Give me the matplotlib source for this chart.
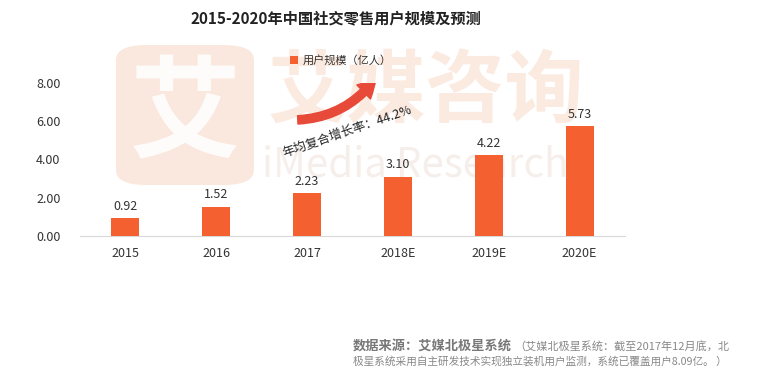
import matplotlib.pyplot as plt
from matplotlib.patches import FancyBboxPatch, FancyArrowPatch

plt.rcParams['font.family'] = ['Noto Sans CJK SC', 'DejaVu Sans']

years = ['2015', '2016', '2017', '2018E', '2019E', '2020E']
users = [0.92, 1.52, 2.23, 3.10, 4.22, 5.73]
yticks = [0, 2, 4, 6, 8]
cagr_label = '年均复合增长率：44.2%'

bar_color = '#F4602F'

fig = plt.figure(figsize=(7.58, 3.76), dpi=100)
ax = fig.add_axes([80 / 758, 1 - 236 / 376, 545 / 758, 153 / 376])
ax.set_zorder(2)

# watermark (behind the axes)
wm = '#F8D9C8'
fig.patches.append(FancyBboxPatch((116 / 758, 1 - 185 / 376), 138 / 758, 140 / 376,
                                  boxstyle='round,pad=0,rounding_size=0.04',
                                  transform=fig.transFigure, fc=wm, ec='none',
                                  alpha=0.6, zorder=0))
fig.text(185 / 758, 1 - 117 / 376, '艾', fontsize=80, color='white', weight='bold',
         ha='center', va='center', alpha=0.9, zorder=0.5)
fig.text(268 / 758, 1 - 92 / 376, '艾媒咨询', fontsize=57, color=wm, weight='bold',
         ha='left', va='center', alpha=0.55, zorder=0.5)
fig.text(262 / 758, 1 - 165 / 376, 'iMedia Research', fontsize=29, color='#F3E8E2',
         ha='left', va='center', alpha=0.7, zorder=0.5)

x = range(len(years))
ax.bar(x, users, width=0.31, color=bar_color, zorder=3, label='用户规模（亿人）')
for i, v in enumerate(users):
    ax.text(i, v + 0.3, f'{v:.2f}', ha='center', va='bottom', fontsize=9, color='#333333')

ax.set_xlim(-0.5, len(years) - 0.5)
ax.set_ylim(0, 8)
ax.set_yticks(yticks)
ax.set_yticklabels([f'{t:.2f}' for t in yticks], fontsize=9, color='#333333')
ax.set_xticks(list(x))
ax.set_xticklabels(years, fontsize=9, color='#333333')
ax.tick_params(length=0, pad=8)
ax.tick_params(axis='y', pad=14)
ax.patch.set_alpha(0)
for s in ['top', 'right', 'left']:
    ax.spines[s].set_visible(False)
ax.spines['bottom'].set_color('#D9D9D9')

leg = ax.legend(loc='upper left', bbox_to_anchor=(200 / 545, 1.25), frameon=False,
                fontsize=8, handlelength=0.75, handleheight=0.75, handletextpad=0.4)
for t in leg.get_texts():
    t.set_color('#333333')

arrow = FancyArrowPatch((295 / 758, 1 - 120 / 376), (378 / 758, 1 - 75 / 376),
                        transform=fig.transFigure, connectionstyle='arc3,rad=0.25',
                        arrowstyle='simple,head_width=14,head_length=14,tail_width=6',
                        color='#E84A3A', zorder=4)
ax.add_artist(arrow)
ax.text(347 / 758, 1 - 131 / 376, cagr_label, fontsize=9, rotation=19,
        transform=fig.transFigure, ha='center', va='center', color='#222222')

fig.text(336 / 758, 1 - 18 / 376, '2015-2020年中国社交零售用户规模及预测', fontsize=11,
         weight='bold', ha='center', va='center', color='#222222')

fig.text(353 / 758, 1 - 346 / 376, '数据来源：艾媒北极星系统', fontsize=9.5, weight='bold',
         ha='left', va='center', color='#777777')
fig.text(514 / 758, 1 - 346 / 376, '（艾媒北极星系统：截至2017年12月底，北', fontsize=8,
         style='italic', ha='left', va='center', color='#888888')
fig.text(353 / 758, 1 - 361 / 376, '极星系统采用自主研发技术实现独立装机用户监测，系统已覆盖用户8.09亿。 ）',
         fontsize=7.7, style='italic', ha='left', va='center', color='#888888')

fig.savefig('out.png', dpi=100)
